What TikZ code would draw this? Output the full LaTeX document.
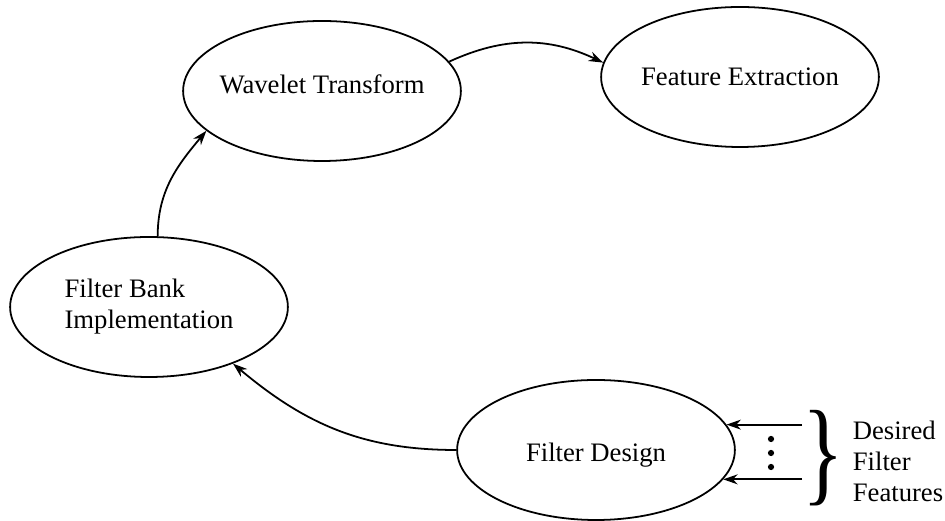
\documentclass[tikz,border=0pt]{standalone}
\usepackage{fontspec}
\setmainfont{Liberation Serif}
\usepackage{tikz}
\usetikzlibrary{shapes.geometric, arrows.meta, positioning}
\tikzstyle{stage} = [ellipse, thick, draw=black, inner xsep=-6pt, inner ysep=0pt, minimum width=125pt, minimum height=63pt, text centered]
\tikzstyle{arrow} = [thick,->,>={Stealth[length=6.5pt,width=4.5pt]}]
\tikzstyle{dot} = [circle, fill=black, inner sep=0pt, minimum size=2.8pt]

\begin{document}
\begin{tikzpicture}[x=0.45pt, y=0.45pt, font=\fontsize{12}{14}\selectfont]
\useasboundingbox (0,0) rectangle (945,521);
\node (bank) [stage, align=left] at (149,214) {Filter Bank\\Implementation};
\node (wavelet) [stage, text depth=6pt] at (322,430) {Wavelet Transform};
\node (feature) [stage] at (740,444) {Feature Extraction};
\node (design) [stage, text height=13pt] at (596,71) {Filter Design};
\coordinate (inx) at (802,0);
\coordinate (in1) at (design.11.5 -| inx);
\coordinate (in2) at (design.347 -| inx);
\draw [arrow] (bank.83) to[out=90, in=230] (wavelet.199);
\draw [arrow] (wavelet.13) to[bend left=25] (feature.174);
\draw [arrow] (design.west) to[out=180, in=-40] (bank.326);
\draw [arrow] (in1) -- (design.11.5);
\draw [arrow] (in2) -- (design.347);
\foreach \y in {82,68,54}
  \node [dot] at (771,\y) {};
\node (brace) [inner sep=0pt, xscale=0.75, font=\fontsize{52}{52}\selectfont] at (823,63) {\}};
\node (desired) [anchor=west, align=left] at (845,60) {Desired\\Filter\\Features};
\end{tikzpicture}
\end{document}
